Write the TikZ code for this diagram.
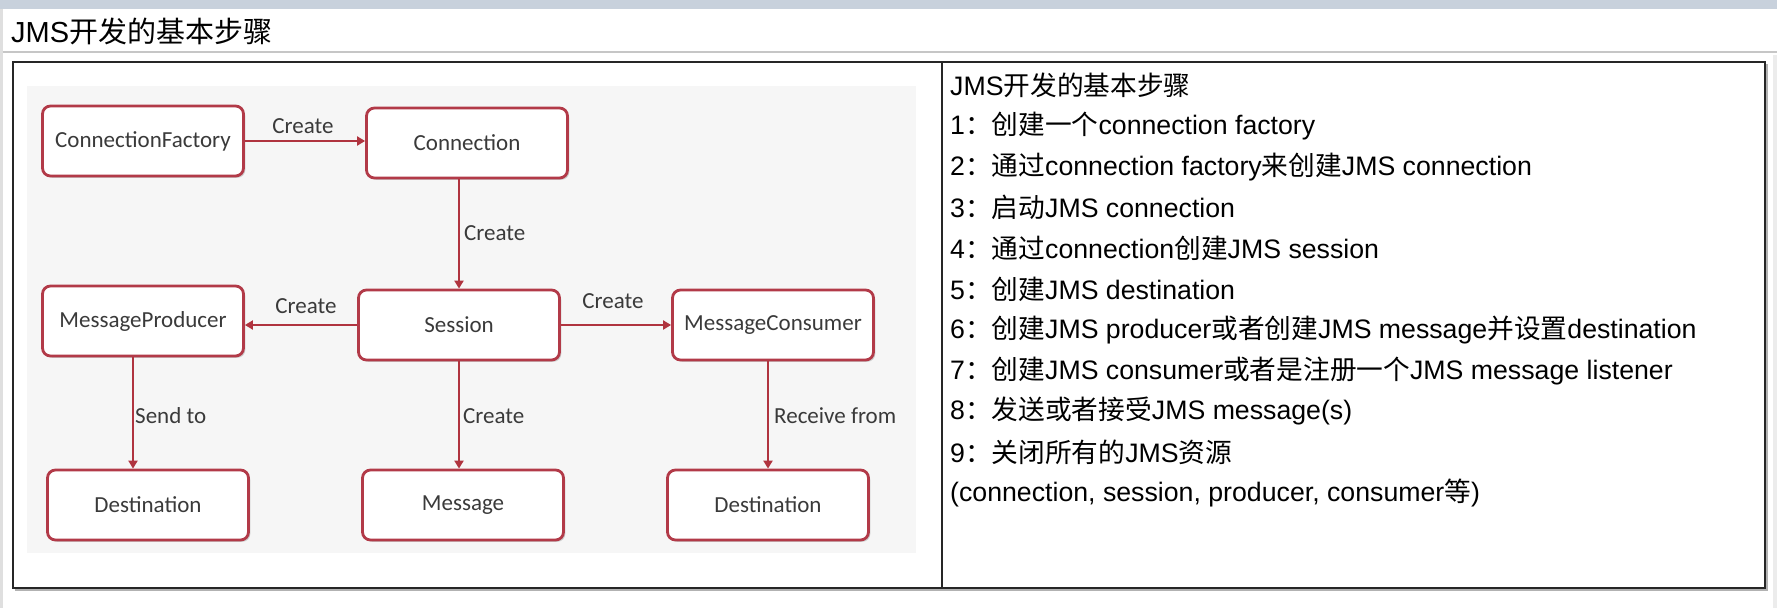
\documentclass[tikz,border=0pt]{standalone}
\usepackage{fontspec}
\setmainfont{Liberation Sans}
\newfontfamily\zhfont{Noto Sans CJK SC}
\newfontfamily\diagfont{Carlito}
\usetikzlibrary{arrows.meta,shadows}
\newcommand\zh[1]{{\zhfont #1}}
\definecolor{boxred}{HTML}{B23A48}
\definecolor{arrred}{HTML}{B0343F}
\definecolor{diagbg}{HTML}{F6F6F6}
\definecolor{topband}{HTML}{C8D1DC}
\definecolor{labelgray}{HTML}{3A3A3A}
\tikzset{
  flowbox/.style={draw=boxred, line width=2.8pt, fill=white, rounded corners=8pt,
    minimum width=201pt, minimum height=70pt, inner sep=0pt,
    font=\diagfont\fontsize{23}{27}\selectfont, text=labelgray,
    drop shadow={shadow xshift=1.8pt, shadow yshift=-1.8pt, opacity=0.35, fill=gray}},
  flowarrow/.style={draw=arrred, line width=2.8pt, -{Triangle[length=8pt,width=9pt]}},
  flowlabel/.style={font=\diagfont\fontsize{23}{27}\selectfont, text=labelgray, inner sep=0pt},
  stepline/.style={anchor=west, inner sep=0pt, font=\fontsize{26.7}{30}\selectfont, text=black}
}
\begin{document}
\begin{tikzpicture}[x=1pt,y=-1pt]
\useasboundingbox (0,0) rectangle (1777,608);
\fill[white] (0,0) rectangle (1777,608);
% window chrome
\fill[topband] (0,0) rectangle (1777,9);
\fill[gray!25] (0,9) rectangle (2.5,608);
\fill[gray!15] (1773,55) rectangle (1777,608);
\draw[gray!45, line width=2pt] (2.5,52) -- (1777,52);
\node[anchor=west, inner sep=0pt, font=\fontsize{29}{33}\selectfont] (title) at (11,31) {JMS\zh{开发的基本步骤}};
% table
\draw[gray!60, line width=2pt] (14.5,590) -- (1767,590) -- (1767,64);
\draw[black!85, line width=2pt] (12.5,62) rectangle (1765,588);
\draw[black!85, line width=1.5pt] (942,62) -- (942,588);
% diagram background
\fill[diagbg] (27,86) rectangle (916,553);
% boxes
\node[flowbox] (cf)    at (143,141) {ConnectionFactory};
\node[flowbox] (conn)  at (467,143) {Connection};
\node[flowbox] (mp)    at (143,321) {MessageProducer};
\node[flowbox] (sess)  at (459,325) {Session};
\node[flowbox] (mc)    at (773,325) {MessageConsumer};
\node[flowbox] (destl) at (148,505) {Destination};
\node[flowbox] (msg)   at (463,505) {Message};
\node[flowbox] (destr) at (768,505) {Destination};
% arrows
\draw[flowarrow] (cf.east) -- (cf.east -| conn.west);
\draw[flowarrow] (conn.south -| sess.north) -- (sess.north);
\draw[flowarrow] (sess.west) -- (sess.west -| mp.east);
\draw[flowarrow] (sess.east) -- (sess.east -| mc.west);
\coordinate (mpout) at ([xshift=-10pt]mp.south);
\draw[flowarrow] (mpout) -- (mpout |- destl.north);
\draw[flowarrow] (sess.south) -- (sess.south |- msg.north);
\draw[flowarrow] (mc.south -| destr.north) -- (destr.north);
% arrow labels
\node[flowlabel] (l1) at (303,126) {Create};
\node[flowlabel, anchor=west] (l2) at (464,233) {Create};
\node[flowlabel] (l3) at (306,306) {Create};
\node[flowlabel] (l4) at (613,301) {Create};
\node[flowlabel, anchor=west] (l5) at (135,416) {Send to};
\node[flowlabel, anchor=west] (l6) at (463,416) {Create};
\node[flowlabel, anchor=west] (l7) at (774,416) {Receive from};
% right column text
\node[stepline] (s0) at (950,85)  {JMS\zh{开发的基本步骤}};
\node[stepline] (s1) at (950,126) {1\zh{：创建一个}connection factory};
\node[stepline] (s2) at (950,167) {2\zh{：通过}connection factory\zh{来创建}JMS connection};
\node[stepline] (s3) at (950,207) {3\zh{：启动}JMS connection};
\node[stepline] (s4) at (950,248) {4\zh{：通过}connection\zh{创建}JMS session};
\node[stepline] (s5) at (950,289) {5\zh{：创建}JMS destination};
\node[stepline] (s6) at (950,330) {6\zh{：创建}JMS producer\zh{或者创建}JMS message\zh{并设置}destination};
\node[stepline] (s7) at (950,371) {7\zh{：创建}JMS consumer\zh{或者是注册一个}JMS message listener};
\node[stepline] (s8) at (950,411) {8\zh{：发送或者接受}JMS message(s)};
\node[stepline] (s9) at (950,452) {9\zh{：关闭所有的}JMS\zh{资源}};
\node[stepline] (s10) at (950,493) {(connection, session, producer, consumer\zh{等})};
\end{tikzpicture}
\end{document}
